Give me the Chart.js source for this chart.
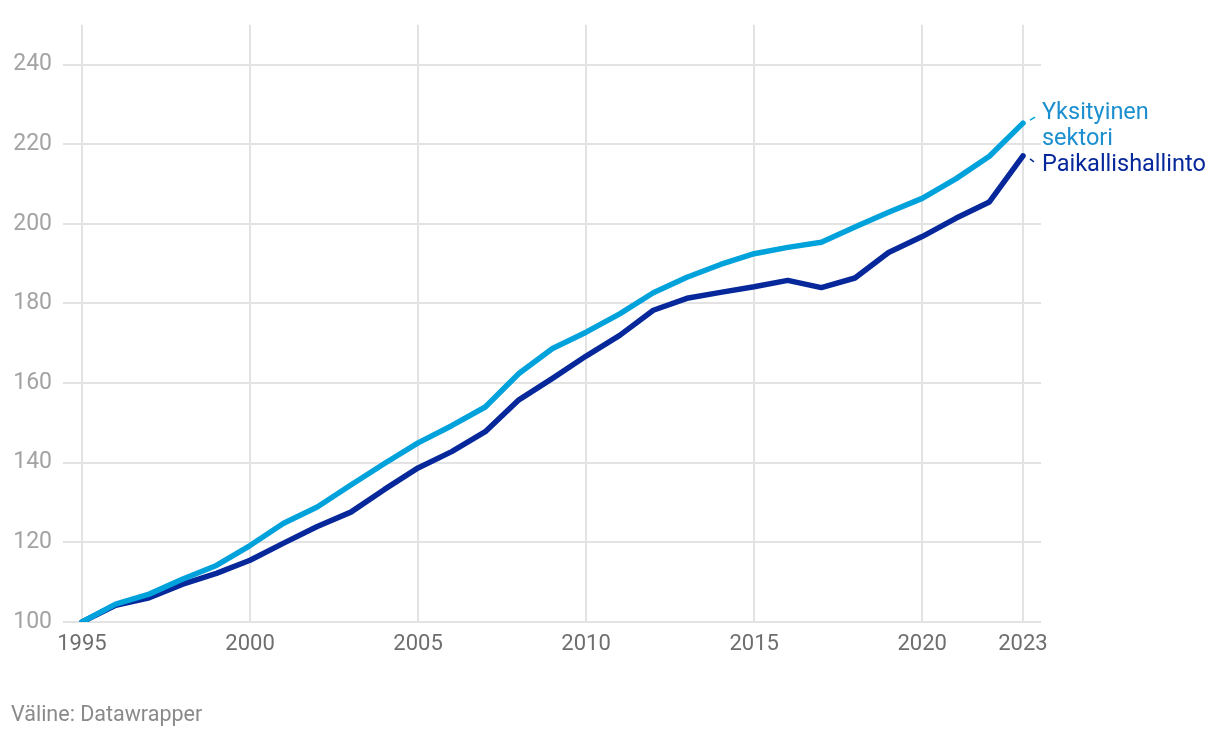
<!DOCTYPE html>
<html>
<head>
<meta charset="utf-8">
<script src="https://cdn.jsdelivr.net/npm/chart.js@4"></script>
<style>
  body { margin: 0; background: #fff; }
  #wrap { position: relative; width: 1220px; height: 738px; }
  #footer { position: absolute; left: 11px; top: 701px; font: 21.5px Roboto, sans-serif; color: #8a8a8a; }
</style>
</head>
<body>
<div id="wrap">
  <canvas id="grafico" width="1220" height="738"></canvas>
  <div id="footer">Väline: Datawrapper</div>
</div>
<script>
// Vuodet ja sarjat (indeksi, 1995 = 100)
const vuodet = [1995, 1996, 1997, 1998, 1999, 2000, 2001, 2002, 2003, 2004, 2005, 2006, 2007, 2008, 2009,
  2010, 2011, 2012, 2013, 2014, 2015, 2016, 2017, 2018, 2019, 2020, 2021, 2022, 2023];
const yksityinen = [100, 104.5, 107, 110.8, 114.2, 119.2, 124.8, 128.9, 134.4, 139.8, 145, 149.3, 154, 162.4, 168.7,
  172.8, 177.4, 182.7, 186.6, 189.8, 192.5, 194.1, 195.4, 199.2, 202.9, 206.4, 211.3, 217, 225.3];
const paikallis = [100, 104.2, 106.1, 109.5, 112.2, 115.5, 119.8, 124, 127.6, 133.3, 138.7, 142.8, 147.8, 155.8, 161.2,
  166.8, 172, 178.3, 181.3, 182.8, 184.2, 185.8, 184, 186.4, 192.8, 196.8, 201.4, 205.5, 217.1];
const xTicks = [1995, 2000, 2005, 2010, 2015, 2020, 2023];
const yTicks = [100, 120, 140, 160, 180, 200, 220, 240];

const vaalea = '#00a2dc';
const tumma = '#07289a';

// Sarjojen nimet viivojen päähän
const nimet = {
  id: 'nimet',
  afterDatasetsDraw(chart) {
    const ctx = chart.ctx;
    const x = chart.scales.x, y = chart.scales.y;
    const n = vuodet.length - 1;
    const px = x.getPixelForValue(vuodet[n]);
    const y1 = y.getPixelForValue(yksityinen[n]);
    const y2 = y.getPixelForValue(paikallis[n]);
    ctx.save();
    ctx.font = '23.5px Roboto, sans-serif';
    ctx.textBaseline = 'middle';
    ctx.textAlign = 'left';
    // Yksityinen sektori
    ctx.fillStyle = '#1b8fcf';
    ctx.fillText('Yksityinen', px + 19, y1 - 10);
    ctx.fillText('sektori', px + 19, y1 + 16);
    // Paikallishallinto
    ctx.fillStyle = tumma;
    ctx.fillText('Paikallishallinto', px + 19, y2 + 9);
    // pienet yhdysviivat
    ctx.lineWidth = 1.5;
    ctx.strokeStyle = vaalea;
    ctx.beginPath();
    ctx.moveTo(px + 7, y1 - 3);
    ctx.lineTo(px + 12, y1 - 6);
    ctx.stroke();
    ctx.strokeStyle = tumma;
    ctx.beginPath();
    ctx.moveTo(px + 7, y2 + 3);
    ctx.lineTo(px + 11, y2 + 6);
    ctx.stroke();
    ctx.restore();
  }
};

const ctx = document.getElementById('grafico').getContext('2d');
new Chart(ctx, {
  type: 'line',
  data: {
    datasets: [
      {
        label: 'Yksityinen sektori',
        data: vuodet.map((v, i) => ({ x: v, y: yksityinen[i] })),
        borderColor: vaalea,
        borderWidth: 5.5,
        pointRadius: 0,
        tension: 0,
        borderJoinStyle: 'round',
        borderCapStyle: 'round'
      },
      {
        label: 'Paikallishallinto',
        data: vuodet.map((v, i) => ({ x: v, y: paikallis[i] })),
        borderColor: tumma,
        borderWidth: 5.5,
        pointRadius: 0,
        tension: 0,
        borderJoinStyle: 'round',
        borderCapStyle: 'round'
      }
    ]
  },
  options: {
    responsive: false,
    animation: false,
    layout: { padding: { top: 22, right: 179, left: 0, bottom: 0 } },
    plugins: { legend: { display: false }, tooltip: { enabled: false } },
    scales: {
      x: {
        type: 'linear',
        min: 1994.435,
        max: 2023.536,
        afterBuildTicks: axis => { axis.ticks = xTicks.map(v => ({ value: v })); },
        afterFit: axis => { axis.height = 116; },
        grid: { color: '#e3e3e3', lineWidth: 2, drawTicks: false },
        border: { display: false },
        ticks: {
          color: '#6e6e6e',
          font: { family: 'Roboto', size: 22 },
          padding: 9,
          maxRotation: 0,
          autoSkip: false,
          callback: v => String(v)
        }
      },
      y: {
        min: 100,
        max: 250,
        afterBuildTicks: axis => { axis.ticks = yTicks.map(v => ({ value: v })); },
        afterFit: axis => { axis.width = 63; },
        grid: { color: '#e3e3e3', lineWidth: 2, drawTicks: false },
        border: { display: false },
        ticks: {
          color: '#a3a3a3',
          font: { family: 'Roboto', size: 23 },
          padding: 11,
          callback: v => String(v)
        }
      }
    }
  },
  plugins: [nimet]
});
</script>
</body>
</html>
